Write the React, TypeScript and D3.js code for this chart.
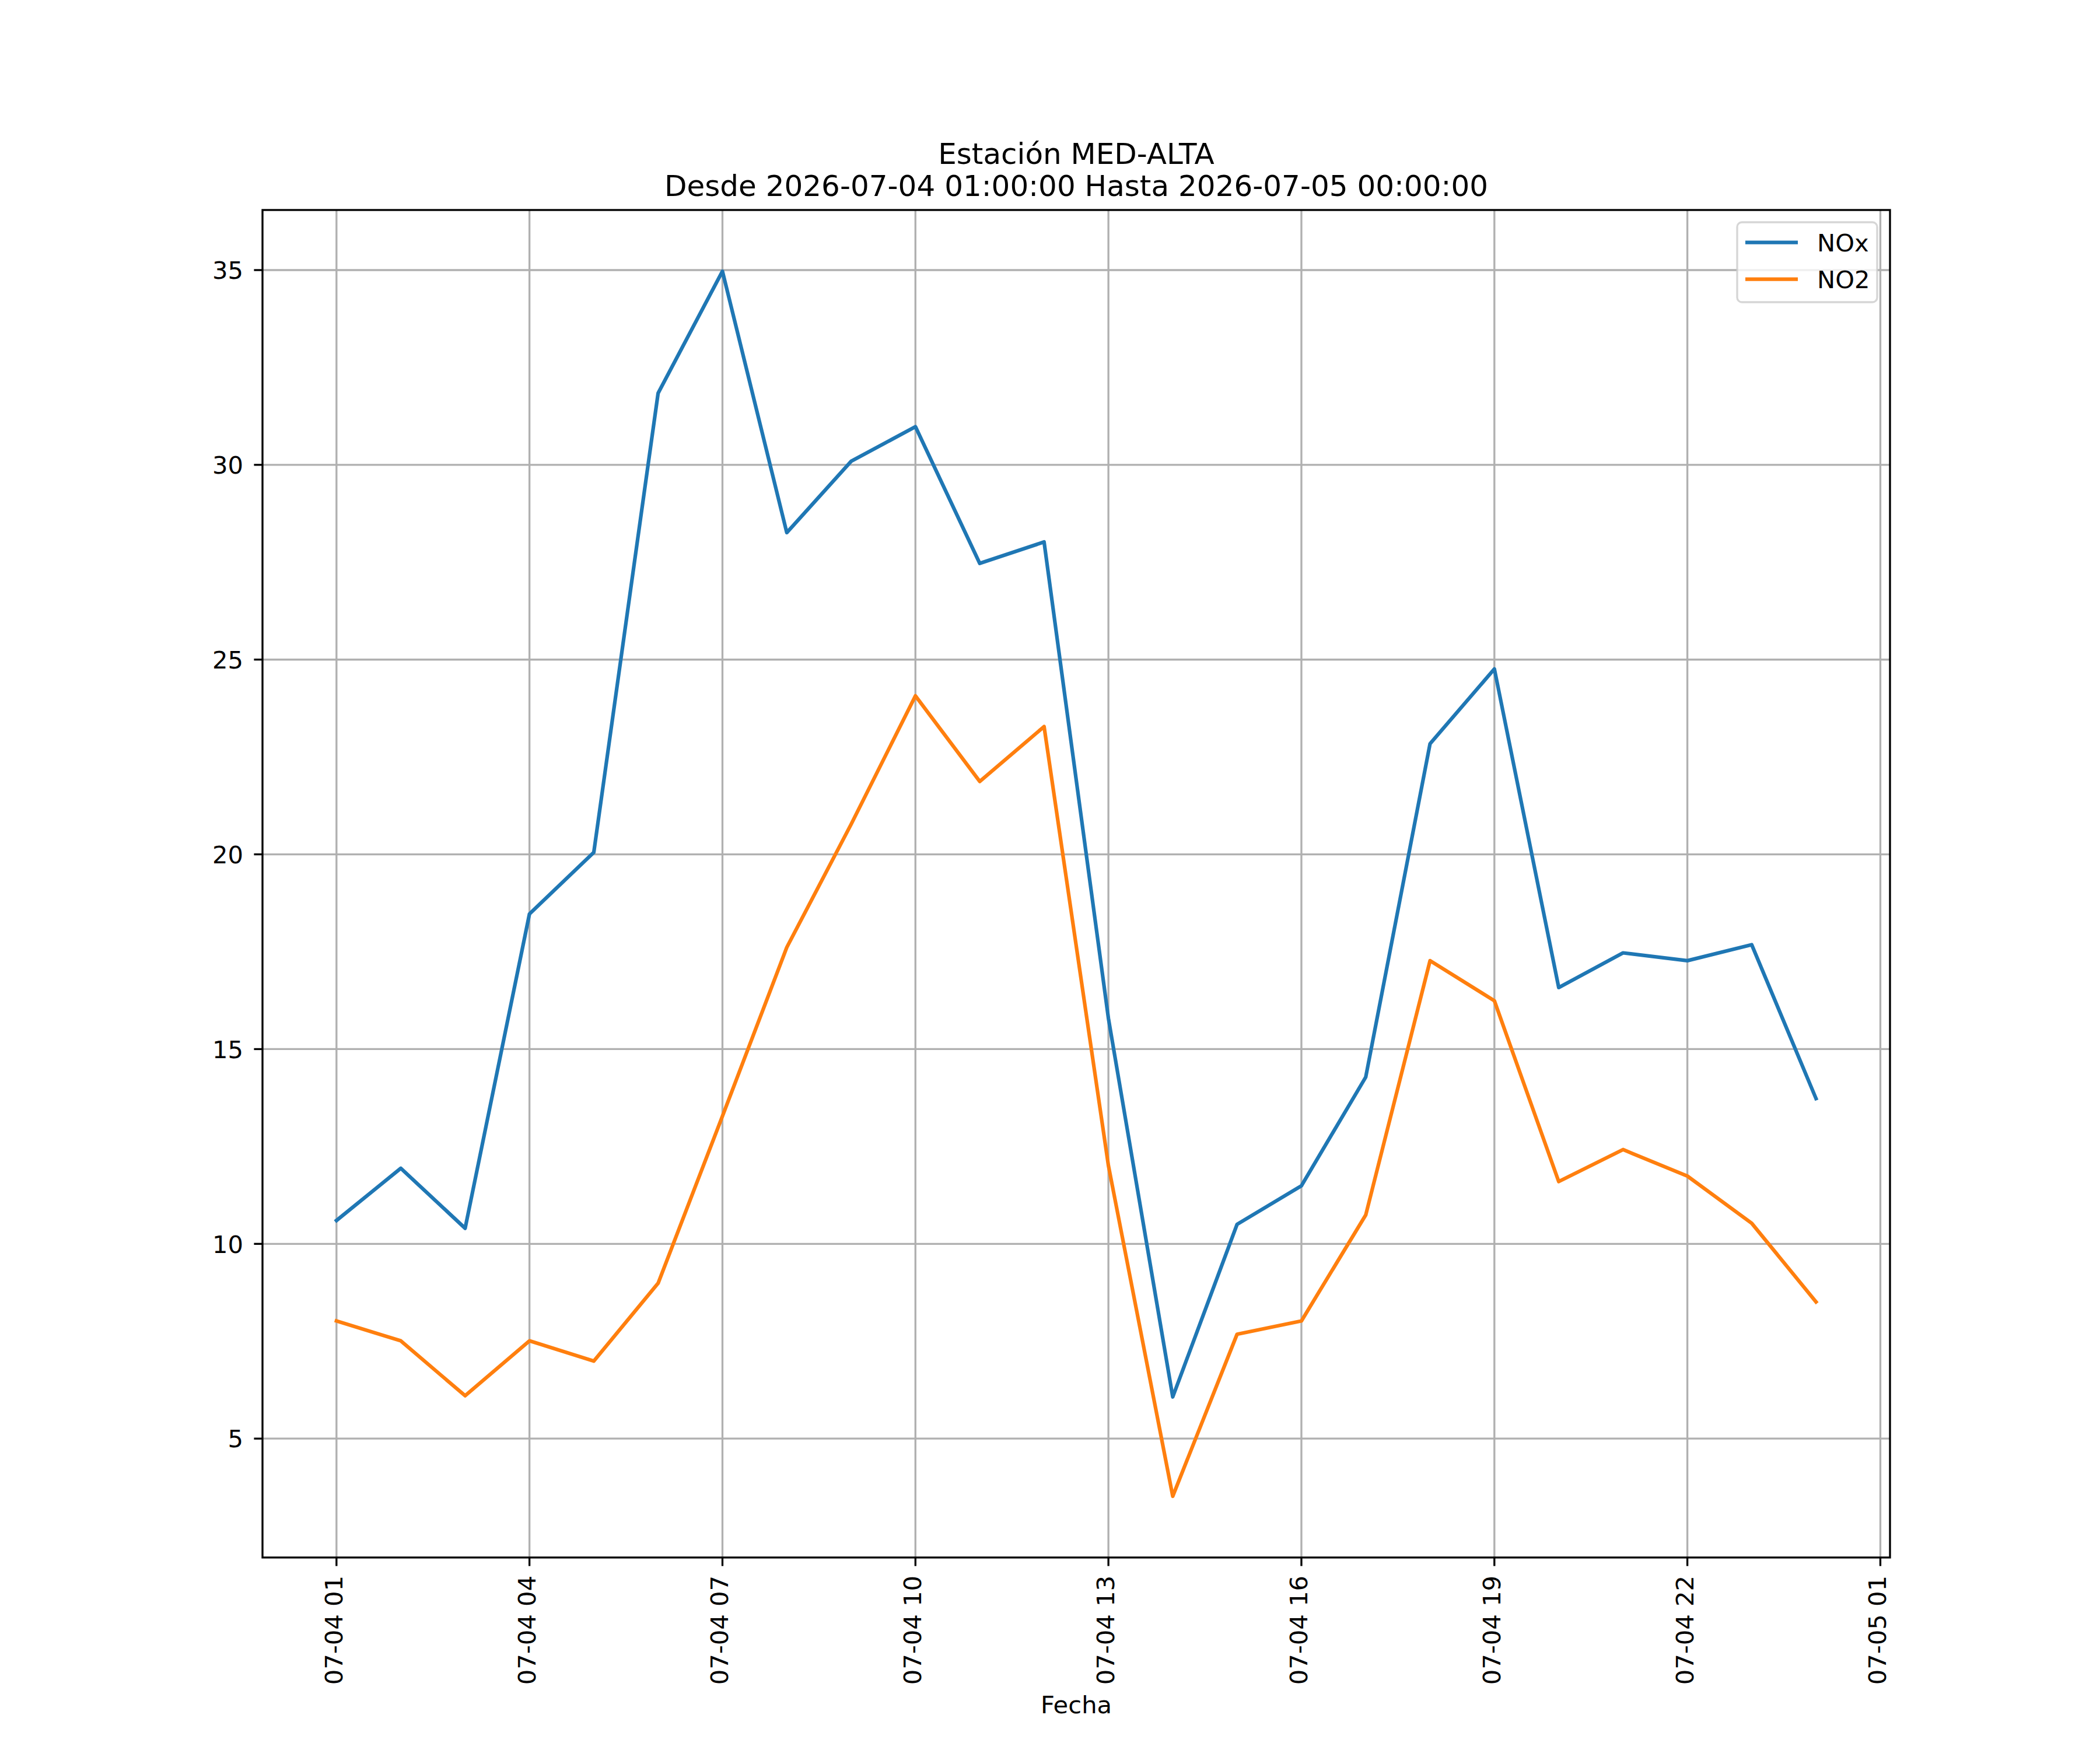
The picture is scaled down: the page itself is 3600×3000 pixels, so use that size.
import * as d3 from "d3";

// hourly timestamps (UTC) of the measurements
const times = [
  "2026-07-04T01:00Z", "2026-07-04T02:00Z", "2026-07-04T03:00Z", "2026-07-04T04:00Z",
  "2026-07-04T05:00Z", "2026-07-04T06:00Z", "2026-07-04T07:00Z", "2026-07-04T08:00Z",
  "2026-07-04T09:00Z", "2026-07-04T10:00Z", "2026-07-04T11:00Z", "2026-07-04T12:00Z",
  "2026-07-04T13:00Z", "2026-07-04T14:00Z", "2026-07-04T15:00Z", "2026-07-04T16:00Z",
  "2026-07-04T17:00Z", "2026-07-04T18:00Z", "2026-07-04T19:00Z", "2026-07-04T20:00Z",
  "2026-07-04T21:00Z", "2026-07-04T22:00Z", "2026-07-04T23:00Z", "2026-07-05T00:00Z",
];

const noxValues = [
  10.6, 11.94, 10.4, 18.47, 20.05, 31.84, 34.97, 28.26, 30.09, 30.98, 27.47, 28.02,
  15.79, 6.07, 10.5, 11.49, 14.28, 22.84, 24.76, 16.58, 17.47, 17.27, 17.68, 13.73,
];

const no2Values = [
  8.02, 7.51, 6.1, 7.51, 6.99, 8.99, 13.28, 17.61, 20.77, 24.07, 21.87, 23.28,
  12.01, 3.52, 7.68, 8.02, 10.74, 17.27, 16.24, 11.6, 12.42, 11.74, 10.53, 8.51,
];

const seriesNames = ["NOx", "NO2"];
const seriesColors = ["#1f77b4", "#ff7f0e"];

const xTickTimes = [
  "2026-07-04T01:00Z", "2026-07-04T04:00Z", "2026-07-04T07:00Z", "2026-07-04T10:00Z",
  "2026-07-04T13:00Z", "2026-07-04T16:00Z", "2026-07-04T19:00Z", "2026-07-04T22:00Z",
  "2026-07-05T01:00Z",
];
const yTicks = [5, 10, 15, 20, 25, 30, 35];

const titleLines = ["Estación MED-ALTA", "Desde 2026-07-04 01:00:00 Hasta 2026-07-05 00:00:00"];
const xLabel = "Fecha";

const W = 3600;
const H = 3000;
const margin = { left: 450, right: 360, top: 360, bottom: 330 };
const font = "'DejaVu Sans', sans-serif";
const fs = 41.67;

export default function App() {
  const dates = times.map((t) => new Date(t));
  const series = [noxValues, no2Values];

  // matplotlib-like 5% margins
  const [t0, t1] = d3.extent(dates) as [Date, Date];
  const tPad = (+t1 - +t0) * 0.05;
  const x = d3
    .scaleUtc()
    .domain([new Date(+t0 - tPad), new Date(+t1 + tPad)])
    .range([margin.left, W - margin.right]);

  const allVals = [...noxValues, ...no2Values];
  const [vMin, vMax] = d3.extent(allVals) as [number, number];
  const vPad = (vMax - vMin) * 0.05;
  const y = d3
    .scaleLinear()
    .domain([vMin - vPad, vMax + vPad])
    .range([H - margin.bottom, margin.top]);

  const fmt = d3.utcFormat("%m-%d %H");
  const line = d3
    .line<number>()
    .x((_, i) => x(dates[i]))
    .y((d) => y(d));

  const left = margin.left;
  const right = W - margin.right;
  const top = margin.top;
  const bottom = H - margin.bottom;
  const cx = (left + right) / 2;

  return (
    <svg
      width={W}
      height={H}
      style={{ position: "absolute", left: 0, top: 0, background: "#fff" }}
      fontFamily={font}
    >
      <rect x={0} y={0} width={W} height={H} fill="#fff" />

      {/* grid */}
      <g stroke="#b0b0b0" strokeWidth={3.33}>
        {xTickTimes.map((t) => (
          <line key={t} x1={x(new Date(t))} x2={x(new Date(t))} y1={top} y2={bottom} />
        ))}
        {yTicks.map((v) => (
          <line key={v} x1={left} x2={right} y1={y(v)} y2={y(v)} />
        ))}
      </g>

      {/* series */}
      {series.map((vals, i) => (
        <path
          key={seriesNames[i]}
          d={line(vals) ?? ""}
          fill="none"
          stroke={seriesColors[i]}
          strokeWidth={6.25}
          strokeLinejoin="round"
          strokeLinecap="square"
        />
      ))}

      {/* spines */}
      <rect
        x={left}
        y={top}
        width={right - left}
        height={bottom - top}
        fill="none"
        stroke="#000"
        strokeWidth={3.33}
      />

      {/* x ticks */}
      {xTickTimes.map((t) => {
        const px = x(new Date(t));
        return (
          <g key={t}>
            <line x1={px} x2={px} y1={bottom} y2={bottom + 14.6} stroke="#000" strokeWidth={3.33} />
            <text
              transform={`translate(${px + 10},${bottom + 31}) rotate(-90)`}
              textAnchor="end"
              fontSize={fs}
              fill="#000"
            >
              {fmt(new Date(t))}
            </text>
          </g>
        );
      })}

      {/* y ticks */}
      {yTicks.map((v) => (
        <g key={v}>
          <line x1={left - 14.6} x2={left} y1={y(v)} y2={y(v)} stroke="#000" strokeWidth={3.33} />
          <text x={left - 33} y={y(v) + 15.2} textAnchor="end" fontSize={fs} fill="#000">
            {v}
          </text>
        </g>
      ))}

      {/* title */}
      <text x={cx} y={281} textAnchor="middle" fontSize={50} fill="#000">
        {titleLines[0]}
      </text>
      <text x={cx} y={336} textAnchor="middle" fontSize={50} fill="#000">
        {titleLines[1]}
      </text>

      {/* x label */}
      <text x={cx} y={2937} textAnchor="middle" fontSize={fs} fill="#000">
        {xLabel}
      </text>

      {/* legend */}
      <g>
        <rect
          x={2978}
          y={381}
          width={240}
          height={137}
          rx={8}
          fill="#fff"
          fillOpacity={0.8}
          stroke="#cccccc"
          strokeOpacity={0.8}
          strokeWidth={3.33}
        />
        {seriesNames.map((name, i) => {
          const ly = 415.7 + i * 63;
          return (
            <g key={name}>
              <line x1={2992} x2={3082} y1={ly} y2={ly} stroke={seriesColors[i]} strokeWidth={6.25} />
              <text x={3115} y={ly + 15} fontSize={fs} fill="#000">
                {name}
              </text>
            </g>
          );
        })}
      </g>
    </svg>
  );
}
